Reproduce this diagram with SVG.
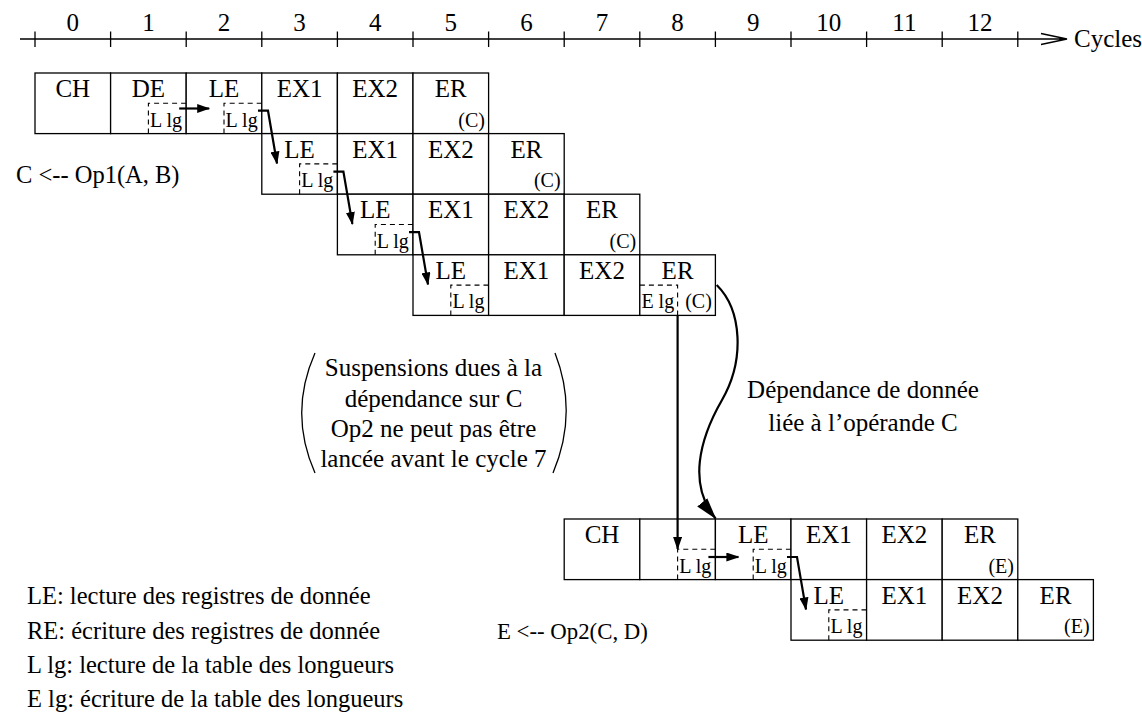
<svg xmlns="http://www.w3.org/2000/svg" width="1142" height="721" viewBox="0 0 1142 721" font-family="'Liberation Serif', 'Times New Roman', Times, 'DejaVu Serif', serif">
<defs>
<style>
text{font-family:'Liberation Serif','Times New Roman',Times,'DejaVu Serif',serif;fill:#000}
.t{font-size:25px;text-anchor:middle}
.s{font-size:20px}
.e{font-size:20px;text-anchor:end}
.l{font-size:25px}
.g{font-size:24.5px}
.cell{fill:#fff;stroke:#000;stroke-width:1.3}
.dash{fill:none;stroke:#000;stroke-width:1.1;stroke-dasharray:5,4}
.ax{fill:none;stroke:#000;stroke-width:1.3}
.con{fill:none;stroke:#000;stroke-width:2.2}
</style>
<marker id="ah" viewBox="0 0 13 9" refX="12" refY="4.5" markerWidth="13" markerHeight="9" markerUnits="userSpaceOnUse" orient="auto"><path d="M0,0L13,4.5L0,9z" fill="#000"/></marker>
<marker id="ahL" viewBox="0 0 22 13" refX="21" refY="6.5" markerWidth="22" markerHeight="13" markerUnits="userSpaceOnUse" orient="auto"><path d="M0,0L22,6.5L0,13z" fill="#000"/></marker>
</defs>
<rect width="1142" height="721" fill="#fff"/>

<g id="axis">
<path class="ax" d="M20,39H1066M1041,33.5L1067,39L1041,44.5"/>
<path class="ax" d="M35,31.5V47M110.6,31.5V47M186.2,31.5V47M261.8,31.5V47M337.4,31.5V47M413,31.5V47M488.6,31.5V47M564.2,31.5V47M639.8,31.5V47M715.4,31.5V47M791,31.5V47M866.6,31.5V47M942.2,31.5V47M1017.8,31.5V47"/>
<g class="t">
<text x="72.8" y="31">0</text><text x="148.4" y="31">1</text><text x="224" y="31">2</text><text x="299.6" y="31">3</text><text x="375.2" y="31">4</text><text x="450.8" y="31">5</text><text x="526.4" y="31">6</text><text x="602" y="31">7</text><text x="677.6" y="31">8</text><text x="753.2" y="31">9</text><text x="828.8" y="31">10</text><text x="904.4" y="31">11</text><text x="980" y="31">12</text>
</g>
<text class="l" x="1074" y="47">Cycles</text>
</g>

<g id="op1-row1">
<rect class="cell" x="35" y="73" width="75.6" height="60.6"/>
<rect class="cell" x="110.6" y="73" width="75.6" height="60.6"/>
<rect class="cell" x="186.2" y="73" width="75.6" height="60.6"/>
<rect class="cell" x="261.8" y="73" width="75.6" height="60.6"/>
<rect class="cell" x="337.4" y="73" width="75.6" height="60.6"/>
<rect class="cell" x="413" y="73" width="75.6" height="60.6"/>
<path class="dash" d="M148.4,133.6V103.3H186.2M224,133.6V103.3H261.8"/>
<text class="t" x="72.8" y="97">CH</text><text class="t" x="148.4" y="97">DE</text><text class="t" x="224" y="97">LE</text><text class="t" x="299.6" y="97">EX1</text><text class="t" x="375.2" y="97">EX2</text><text class="t" x="450.8" y="97">ER</text>
<text class="s" x="150" y="126.6">L lg</text><text class="s" x="225.6" y="126.6">L lg</text>
<text class="e" x="485" y="126.6">(C)</text>
</g>

<g id="op1-row2">
<rect class="cell" x="261.8" y="133.6" width="75.6" height="60.6"/>
<rect class="cell" x="337.4" y="133.6" width="75.6" height="60.6"/>
<rect class="cell" x="413" y="133.6" width="75.6" height="60.6"/>
<rect class="cell" x="488.6" y="133.6" width="75.6" height="60.6"/>
<path class="dash" d="M299.6,194.2V163.9H337.4"/>
<text class="t" x="299.6" y="157.6">LE</text><text class="t" x="375.2" y="157.6">EX1</text><text class="t" x="450.8" y="157.6">EX2</text><text class="t" x="526.4" y="157.6">ER</text>
<text class="s" x="301.2" y="187.2">L lg</text>
<text class="e" x="560.6" y="187.2">(C)</text>
</g>

<g id="op1-row3">
<rect class="cell" x="337.4" y="194.2" width="75.6" height="60.6"/>
<rect class="cell" x="413" y="194.2" width="75.6" height="60.6"/>
<rect class="cell" x="488.6" y="194.2" width="75.6" height="60.6"/>
<rect class="cell" x="564.2" y="194.2" width="75.6" height="60.6"/>
<path class="dash" d="M375.2,254.8V224.5H413"/>
<text class="t" x="375.2" y="218.2">LE</text><text class="t" x="450.8" y="218.2">EX1</text><text class="t" x="526.4" y="218.2">EX2</text><text class="t" x="602" y="218.2">ER</text>
<text class="s" x="376.8" y="247.8">L lg</text>
<text class="e" x="636.2" y="247.8">(C)</text>
</g>

<g id="op1-row4">
<rect class="cell" x="413" y="254.8" width="75.6" height="60.6"/>
<rect class="cell" x="488.6" y="254.8" width="75.6" height="60.6"/>
<rect class="cell" x="564.2" y="254.8" width="75.6" height="60.6"/>
<rect class="cell" x="639.8" y="254.8" width="75.6" height="60.6"/>
<path class="dash" d="M450.8,315.4V285.1H488.6M677.6,315.4V285.1H639.8"/>
<text class="t" x="450.8" y="278.8">LE</text><text class="t" x="526.4" y="278.8">EX1</text><text class="t" x="602" y="278.8">EX2</text><text class="t" x="677.6" y="278.8">ER</text>
<text class="s" x="452.4" y="308.4">L lg</text>
<text class="s" x="641.4" y="308.4">E lg</text>
<text class="e" x="711.8" y="308.4">(C)</text>
</g>

<g id="op2-rowA">
<rect class="cell" x="564.2" y="519" width="75.6" height="60.6"/>
<rect class="cell" x="639.8" y="519" width="75.6" height="60.6"/>
<rect class="cell" x="715.4" y="519" width="75.6" height="60.6"/>
<rect class="cell" x="791" y="519" width="75.6" height="60.6"/>
<rect class="cell" x="866.6" y="519" width="75.6" height="60.6"/>
<rect class="cell" x="942.2" y="519" width="75.6" height="60.6"/>
<path class="dash" d="M677.6,579.6V549.3H715.4M753.2,579.6V549.3H791"/>
<text class="t" x="602" y="543">CH</text><text class="t" x="753.2" y="543">LE</text><text class="t" x="828.8" y="543">EX1</text><text class="t" x="904.4" y="543">EX2</text><text class="t" x="980" y="543">ER</text>
<text class="s" x="679.2" y="572.6">L lg</text><text class="s" x="754.8" y="572.6">L lg</text>
<text class="e" x="1014" y="572.6">(E)</text>
</g>

<g id="op2-rowB">
<rect class="cell" x="791" y="579.6" width="75.6" height="60.6"/>
<rect class="cell" x="866.6" y="579.6" width="75.6" height="60.6"/>
<rect class="cell" x="942.2" y="579.6" width="75.6" height="60.6"/>
<rect class="cell" x="1017.8" y="579.6" width="75.6" height="60.6"/>
<path class="dash" d="M828.8,640.2V609.9H866.6"/>
<text class="t" x="828.8" y="603.6">LE</text><text class="t" x="904.4" y="603.6">EX1</text><text class="t" x="980" y="603.6">EX2</text><text class="t" x="1055.6" y="603.6">ER</text>
<text class="s" x="830.4" y="633.2">L lg</text>
<text class="e" x="1089.6" y="633.2">(E)</text>
</g>

<g id="connectors">
<path class="con" d="M179.2,108.5H209.2" marker-end="url(#ah)"/>
<path class="con" d="M258,110.7H268L277,163.5" marker-end="url(#ah)"/>
<path class="con" d="M333.4,171.6H343.4L352.4,224" marker-end="url(#ah)"/>
<path class="con" d="M409,232.2H419L428,284.5" marker-end="url(#ah)"/>
<path class="con" d="M708.4,557H738.4" marker-end="url(#ah)"/>
<path class="con" d="M787,557H797L806,609.5" marker-end="url(#ah)"/>
<path class="con" d="M677.6,315.4V549" marker-end="url(#ah)"/>
<path class="con" d="M716.7,285C742,310 745,360 722,400C699,440 688,485 715.6,518.5" marker-end="url(#ahL)"/>
</g>

<g id="labels">
<text class="g" x="16" y="183">C &lt;-- Op1(A, B)</text>
<path class="ax" d="M315,353Q288.4,413 315,473M555,353Q578.4,413 553,473"/>
<text class="t" x="433.5" y="376">Suspensions dues à la</text>
<text class="t" x="433.5" y="407">dépendance sur C</text>
<text class="t" x="433.5" y="437">Op2 ne peut pas être</text>
<text class="t" x="433.5" y="467">lancée avant le cycle 7</text>
<text class="t" x="863" y="398">Dépendance de donnée</text>
<text class="t" x="863" y="431">liée à l’opérande C</text>
<text x="497" y="639" font-size="22.8">E &lt;-- Op2(C, D)</text>
<text class="g" x="27" y="604">LE: lecture des registres de donnée</text>
<text class="g" x="27" y="639">RE: écriture des registres de donnée</text>
<text class="g" x="27" y="673">L lg: lecture de la table des longueurs</text>
<text class="g" x="27" y="707">E lg: écriture de la table des longueurs</text>
</g>
</svg>
